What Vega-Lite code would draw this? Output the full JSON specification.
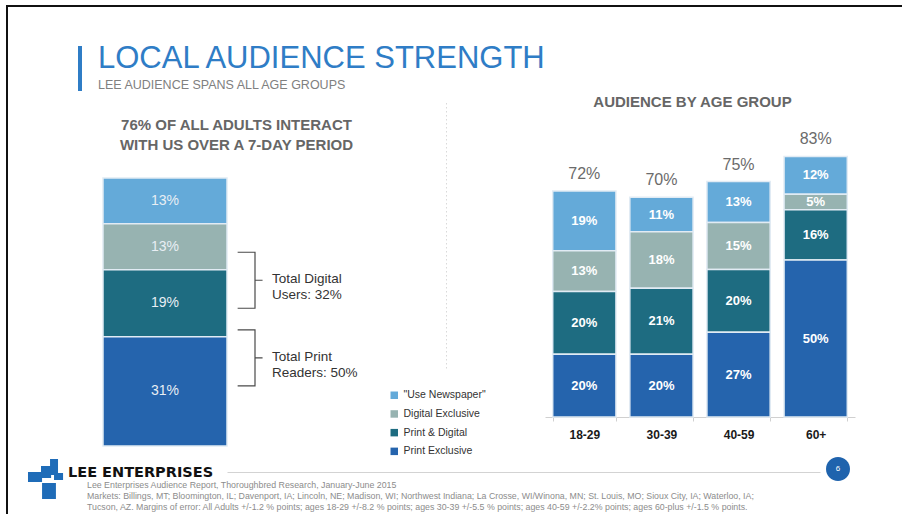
{
  "$schema": "https://vega.github.io/schema/vega-lite/v6.json",
  "background": "white",
  "padding": {"left": 6, "top": 5, "right": 0, "bottom": 0},
  "bounds": "full",
  "spacing": 0,
  "config": {
    "font": "Liberation Sans",
    "view": {"stroke": null},
    "title": {"font": "Liberation Sans"}
  },
  "datasets": {
    "all": [
      {"grp": "All Adults", "segment": "\"Use Newspaper\"", "share": 0.13},
      {"grp": "All Adults", "segment": "Digital Exclusive", "share": 0.13},
      {"grp": "All Adults", "segment": "Print & Digital", "share": 0.19},
      {"grp": "All Adults", "segment": "Print Exclusive", "share": 0.31}
    ],
    "brackets": [
      {"grp": "All Adults", "line1": "Total Digital", "line2": "Users: 32%", "at": 0.47},
      {"grp": "All Adults", "line1": "Total Print", "line2": "Readers: 50%", "at": 0.25}
    ],
    "age": [
      {"age": "18-29", "segment": "\"Use Newspaper\"", "share": 0.19},
      {"age": "18-29", "segment": "Digital Exclusive", "share": 0.13},
      {"age": "18-29", "segment": "Print & Digital", "share": 0.20},
      {"age": "18-29", "segment": "Print Exclusive", "share": 0.20},
      {"age": "30-39", "segment": "\"Use Newspaper\"", "share": 0.11},
      {"age": "30-39", "segment": "Digital Exclusive", "share": 0.18},
      {"age": "30-39", "segment": "Print & Digital", "share": 0.21},
      {"age": "30-39", "segment": "Print Exclusive", "share": 0.20},
      {"age": "40-59", "segment": "\"Use Newspaper\"", "share": 0.13},
      {"age": "40-59", "segment": "Digital Exclusive", "share": 0.15},
      {"age": "40-59", "segment": "Print & Digital", "share": 0.20},
      {"age": "40-59", "segment": "Print Exclusive", "share": 0.27},
      {"age": "60+", "segment": "\"Use Newspaper\"", "share": 0.12},
      {"age": "60+", "segment": "Digital Exclusive", "share": 0.05},
      {"age": "60+", "segment": "Print & Digital", "share": 0.16},
      {"age": "60+", "segment": "Print Exclusive", "share": 0.50}
    ]
  },
  "vconcat": [
    {"width": 896, "height": 2, "view": {"fill": "#111111", "stroke": null}, "data": {"values": [{}]}, "mark": {"type": "point", "opacity": 0, "size": 0}},
    {
      "hconcat": [
        {"width": 2, "height": 450, "view": {"fill": "#111111", "stroke": null}, "data": {"values": [{}]}, "mark": {"type": "point", "opacity": 0, "size": 0}},
        {
          "columns": 8,
          "align": "each",
          "bounds": "flush",
          "spacing": 0,
          "resolve": {"scale": {"color": "independent"}, "legend": {"color": "independent"}},
          "concat": [
            {"width": 70, "height": 39, "data": {"values": [{}]}, "mark": {"type": "point", "opacity": 0, "size": 0}},
            {"width": 1, "height": 1, "data": {"values": [{}]}, "mark": {"type": "point", "opacity": 0, "size": 0}},
            {"width": 1, "height": 1, "data": {"values": [{}]}, "mark": {"type": "point", "opacity": 0, "size": 0}},
            {"width": 1, "height": 1, "data": {"values": [{}]}, "mark": {"type": "point", "opacity": 0, "size": 0}},
            {"width": 1, "height": 1, "data": {"values": [{}]}, "mark": {"type": "point", "opacity": 0, "size": 0}},
            {"width": 1, "height": 1, "data": {"values": [{}]}, "mark": {"type": "point", "opacity": 0, "size": 0}},
            {"width": 1, "height": 1, "data": {"values": [{}]}, "mark": {"type": "point", "opacity": 0, "size": 0}},
            {"width": 1, "height": 1, "data": {"values": [{}]}, "mark": {"type": "point", "opacity": 0, "size": 0}},

            {"width": 70, "height": 54, "data": {"values": [{}]}, "mark": {"type": "point", "opacity": 0, "size": 0}},
            {
              "width": 4, "height": 45,
              "view": {"fill": "#2f7dc6", "stroke": null},
              "data": {"values": [{}]},
              "mark": {"type": "point", "opacity": 0, "size": 0},
              "title": {
                "text": "LOCAL AUDIENCE STRENGTH",
                "subtitle": "LEE AUDIENCE SPANS ALL AGE GROUPS",
                "orient": "top", "anchor": "start", "frame": "group",
                "offset": 0, "dx": 20, "dy": 46,
                "font": "Liberation Sans", "fontSize": 31, "fontWeight": "normal", "color": "#2f7dc6",
                "subtitleFont": "Liberation Sans", "subtitleFontSize": 12.5, "subtitleColor": "#808080", "subtitlePadding": 4
              }
            },
            {"width": 1, "height": 1, "data": {"values": [{}]}, "mark": {"type": "point", "opacity": 0, "size": 0}},
            {"width": 1, "height": 1, "data": {"values": [{}]}, "mark": {"type": "point", "opacity": 0, "size": 0}},
            {"width": 1, "height": 1, "data": {"values": [{}]}, "mark": {"type": "point", "opacity": 0, "size": 0}},
            {"width": 1, "height": 1, "data": {"values": [{}]}, "mark": {"type": "point", "opacity": 0, "size": 0}},
            {"width": 1, "height": 1, "data": {"values": [{}]}, "mark": {"type": "point", "opacity": 0, "size": 0}},
            {"width": 1, "height": 1, "data": {"values": [{}]}, "mark": {"type": "point", "opacity": 0, "size": 0}},

            {"width": 70, "height": 1, "data": {"values": [{}]}, "mark": {"type": "point", "opacity": 0, "size": 0}},
            {"width": 4, "height": 1, "data": {"values": [{}]}, "mark": {"type": "point", "opacity": 0, "size": 0}},
            {"width": 21, "height": 1, "data": {"values": [{}]}, "mark": {"type": "point", "opacity": 0, "size": 0}},
            {
              "width": 124, "height": 346,
              "title": {
                "text": ["76% OF ALL ADULTS INTERACT", "WITH US OVER A 7-DAY PERIOD"],
                "orient": "top", "anchor": "middle", "frame": "group",
                "offset": 0, "dx": 71.5, "dy": 53, "lineHeight": 20,
                "fontSize": 15, "fontWeight": "bold", "color": "#666666"
              },
              "layer": [
                {
                  "data": {"name": "all"},
                  "mark": {"type": "bar", "stroke": "#e1ebf4", "strokeWidth": 1.5},
                  "encoding": {
                    "x": {"field": "grp", "type": "nominal", "scale": {"paddingInner": 0, "paddingOuter": 0}, "axis": null},
                    "y": {"field": "share", "type": "quantitative", "stack": "zero", "scale": {"domain": [0, 0.9812], "nice": false}, "axis": null},
                    "color": {"field": "segment", "type": "nominal",
                      "scale": {"domain": ["\"Use Newspaper\"", "Digital Exclusive", "Print & Digital", "Print Exclusive"], "range": ["#64aad9", "#97b3b1", "#1e6c81", "#2564ad"]},
                      "legend": null},
                    "order": {"field": "segment", "sort": "descending"}
                  }
                },
                {
                  "data": {"name": "all"},
                  "mark": {"type": "text", "color": "#e8eef4", "fontSize": 14, "baseline": "middle", "align": "center"},
                  "encoding": {
                    "x": {"field": "grp", "type": "nominal"},
                    "y": {"field": "share", "type": "quantitative", "stack": "zero", "bandPosition": 0.5, "scale": {"domain": [0, 0.9812], "nice": false}},
                    "detail": {"field": "segment"},
                    "order": {"field": "segment", "sort": "descending"},
                    "text": {"field": "share", "type": "quantitative", "format": ".0%"}
                  }
                },
                {
                  "data": {"name": "brackets"},
                  "mark": {"type": "point", "shape": "M-0.62,-1H0V1H-0.62M0,0H0.27", "size": 3136, "filled": false, "color": "#4a4a4a", "strokeWidth": 1.2, "opacity": 1, "xOffset": 28},
                  "encoding": {
                    "x": {"field": "grp", "type": "nominal", "bandPosition": 1},
                    "y": {"field": "at", "type": "quantitative", "scale": {"domain": [0, 0.9812], "nice": false}}
                  }
                },
                {
                  "data": {"name": "brackets"},
                  "mark": {"type": "text", "align": "left", "baseline": "alphabetic", "dx": 45, "dy": 3, "fontSize": 13.5, "color": "#333333"},
                  "encoding": {
                    "x": {"field": "grp", "type": "nominal", "bandPosition": 1},
                    "y": {"field": "at", "type": "quantitative", "scale": {"domain": [0, 0.9812], "nice": false}},
                    "text": {"field": "line1", "type": "nominal"}
                  }
                },
                {
                  "data": {"name": "brackets"},
                  "mark": {"type": "text", "align": "left", "baseline": "alphabetic", "dx": 45, "dy": 19, "fontSize": 13.5, "color": "#333333"},
                  "encoding": {
                    "x": {"field": "grp", "type": "nominal", "bandPosition": 1},
                    "y": {"field": "at", "type": "quantitative", "scale": {"domain": [0, 0.9812], "nice": false}},
                    "text": {"field": "line2", "type": "nominal"}
                  }
                }
              ]
            },
            {"width": 219, "height": 1, "data": {"values": [{}]}, "mark": {"type": "point", "opacity": 0, "size": 0}},
            {
              "width": 1, "height": 268,
              "data": {"values": [{}]},
              "mark": {"type": "point", "opacity": 0, "size": 0},
              "encoding": {
                "y": {"datum": 0, "type": "quantitative", "scale": {"domain": [0, 1]},
                  "axis": {"title": null, "labels": false, "ticks": false, "grid": false, "domainColor": "#d9d9d9", "domainDash": [1.5, 2.5], "domainWidth": 1}}
              }
            },
            {"width": 98, "height": 1, "data": {"values": [{}]}, "mark": {"type": "point", "opacity": 0, "size": 0}},
            {
              "width": 310, "height": 317,
              "data": {"name": "age"},
              "title": {
                "text": "AUDIENCE BY AGE GROUP",
                "orient": "top", "anchor": "middle", "frame": "group",
                "offset": 0, "dx": -7.5, "dy": 10,
                "fontSize": 15, "fontWeight": "bold", "color": "#666666"
              },
              "encoding": {
                "x": {"field": "age", "type": "nominal", "sort": ["18-29", "30-39", "40-59", "60+"],
                  "scale": {"paddingInner": 0.18, "paddingOuter": 0.1},
                  "axis": {"title": null, "labelAngle": 0, "labelFontSize": 12, "labelFontWeight": "bold", "labelColor": "#1a1a1a", "labelPadding": 8,
                    "ticks": true, "tickSize": 4, "tickColor": "#d0d0d0", "tickBand": "extent", "domainColor": "#d0d0d0", "grid": false}}
              },
              "layer": [
                {
                  "mark": {"type": "bar", "stroke": "#e1ebf4", "strokeWidth": 1.5},
                  "encoding": {
                    "y": {"field": "share", "type": "quantitative", "stack": "zero", "scale": {"domain": [0, 1.01], "nice": false}, "axis": null},
                    "color": {"field": "segment", "type": "nominal",
                      "scale": {"domain": ["\"Use Newspaper\"", "Digital Exclusive", "Print & Digital", "Print Exclusive"], "range": ["#64aad9", "#97b3b1", "#1e6c81", "#2564ad"]},
                      "legend": {"orient": "none", "legendX": -156, "legendY": 290, "title": null, "symbolType": "square", "symbolSize": 56, "symbolStrokeWidth": 0,
                        "labelFontSize": 10.5, "labelColor": "#333333", "labelOffset": 4, "rowPadding": 7.7, "padding": 0}},
                    "order": {"field": "segment", "sort": "descending"}
                  }
                },
                {
                  "mark": {"type": "text", "color": "#ffffff", "fontSize": 13, "fontWeight": "bold", "baseline": "middle", "align": "center"},
                  "encoding": {
                    "y": {"field": "share", "type": "quantitative", "stack": "zero", "bandPosition": 0.5, "scale": {"domain": [0, 1.01], "nice": false}, "axis": null},
                    "detail": {"field": "segment"},
                    "order": {"field": "segment", "sort": "descending"},
                    "text": {"field": "share", "type": "quantitative", "format": ".0%"}
                  }
                },
                {
                  "mark": {"type": "text", "color": "#6b6b6b", "fontSize": 16, "baseline": "alphabetic", "align": "center", "dy": -12},
                  "encoding": {
                    "y": {"aggregate": "sum", "field": "share", "type": "quantitative", "scale": {"domain": [0, 1.01], "nice": false}, "axis": null},
                    "text": {"aggregate": "sum", "field": "share", "type": "quantitative", "format": ".0%"}
                  }
                }
              ]
            }
          ]
        }
      ],
      "bounds": "flush",
      "spacing": 0
    },
    {
      "hconcat": [
        {"width": 2, "height": 60, "view": {"fill": "#111111", "stroke": null}, "data": {"values": [{}]}, "mark": {"type": "point", "opacity": 0, "size": 0}},
        {"width": 20, "height": 1, "data": {"values": [{}]}, "mark": {"type": "point", "opacity": 0, "size": 0}},
        {
          "width": 34, "height": 44,
          "data": {"values": [{}]},
          "mark": {"type": "point", "shape": "M0.24,-0.95H0.62V-0.19H0.24Z M-0.19,-0.62H0.29V-0.05H-0.19Z M-0.81,-0.33H-0.14V0.14H-0.81Z M0.43,-0.29H0.86V0.05H0.43Z M-0.14,0.19H0.52V0.95H-0.14Z", "size": 1764, "filled": true, "color": "#1f6cb8", "opacity": 1, "strokeWidth": 0},
          "title": {
            "text": "LEE ENTERPRISES",
            "orient": "top", "anchor": "start", "frame": "group",
            "offset": 0, "dx": 40, "dy": 23.5,
            "font": "DejaVu Sans", "fontSize": 14.5, "fontWeight": "bold", "color": "#111111"
          }
        },
        {
          "width": 165, "height": 1,
          "data": {"values": [{}]},
          "mark": {"type": "point", "opacity": 0, "size": 0},
          "title": {
            "text": [
              "Lee Enterprises Audience Report, Thoroughbred Research, January-June 2015",
              "Markets: Billings, MT; Bloomington, IL; Davenport, IA; Lincoln, NE; Madison, WI; Northwest Indiana;  La Crosse, WI/Winona, MN; St. Louis, MO; Sioux City, IA; Waterloo, IA;",
              "Tucson, AZ. Margins of error: All Adults +/-1.2 % points; ages 18-29  +/-8.2 % points; ages 30-39 +/-5.5 % points; ages 40-59 +/-2.2% points; ages 60-plus +/-1.5 % points."
            ],
            "orient": "top", "anchor": "start", "frame": "group",
            "offset": 0, "dx": 25, "dy": 54.8, "lineHeight": 10.8,
            "font": "Liberation Sans", "fontSize": 8.8, "fontWeight": "normal", "color": "#8c8c8c"
          }
        },
        {
          "width": 593, "height": 15,
          "data": {"values": [{}]},
          "mark": {"type": "point", "opacity": 0, "size": 0},
          "encoding": {
            "x": {"datum": 0, "type": "quantitative", "scale": {"domain": [0, 1]},
              "axis": {"title": null, "labels": false, "ticks": false, "grid": false, "domainColor": "#d3d3d3", "domainWidth": 1}}
          }
        },
        {"width": 6, "height": 1, "data": {"values": [{}]}, "mark": {"type": "point", "opacity": 0, "size": 0}},
        {
          "width": 24, "height": 24,
          "view": {"fill": "#1f63ad", "stroke": null, "cornerRadius": 12},
          "data": {"values": [{"page": "6"}]},
          "mark": {"type": "text", "color": "#ffffff", "fontSize": 8, "baseline": "middle", "align": "center"},
          "encoding": {"text": {"field": "page", "type": "nominal"}}
        }
      ],
      "bounds": "flush",
      "spacing": 0
    }
  ]
}
